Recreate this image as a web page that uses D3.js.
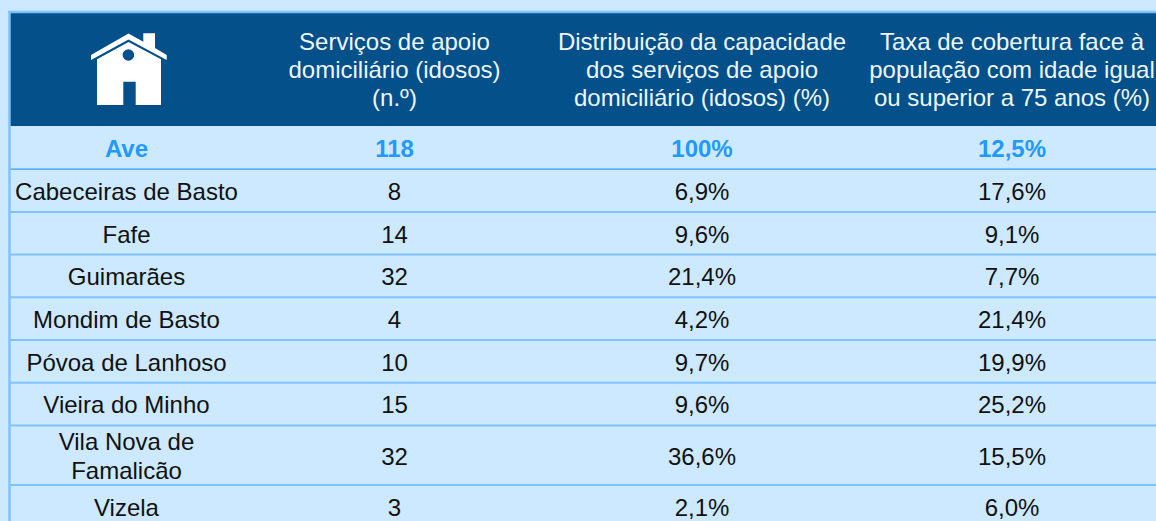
<!DOCTYPE html>
<html>
<head>
<meta charset="utf-8">
<script src="https://cdn.jsdelivr.net/npm/d3@7"></script>
<style>
  html, body { margin: 0; padding: 0; background: #cde9ff; overflow: hidden; }
  text { font-family: "Liberation Sans", Arial, sans-serif; }
</style>
</head>
<body>
<div id="chart"></div>
<script>
var svgWidth = 1156;
var svgHeight = 521;

// table values
var headers = [
  ["Serviços de apoio", "domiciliário (idosos)", "(n.º)"],
  ["Distribuição da capacidade", "dos serviços de apoio", "domiciliário (idosos) (%)"],
  ["Taxa de cobertura face à", "população com idade igual", "ou superior a 75 anos (%)"]
];
var regionTotal = ["Ave", "118", "100%", "12,5%"];
var municipalities = [
  ["Cabeceiras de Basto"],
  ["Fafe"],
  ["Guimarães"],
  ["Mondim de Basto"],
  ["Póvoa de Lanhoso"],
  ["Vieira do Minho"],
  ["Vila Nova de", "Famalicão"],
  ["Vizela"]
];
var serviceCounts = ["8", "14", "32", "4", "10", "15", "32", "3"];
var capacityShares = ["6,9%", "9,6%", "21,4%", "4,2%", "9,7%", "9,6%", "36,6%", "2,1%"];
var coverageRates = ["17,6%", "9,1%", "7,7%", "21,4%", "19,9%", "25,2%", "15,5%", "6,0%"];

var colors = {
  header: "#03508a",
  headerText: "#eef6fc",
  total: "#2299ff",
  totalLine: "#3399f5",
  grid: "#7fc2ff",
  text: "#111111"
};

var svg = d3.select("#chart")
  .append("svg")
  .attr("width", svgWidth)
  .attr("height", svgHeight)
  .style("display", "block");

// column centres
var x = d3.scaleOrdinal()
  .domain([0, 1, 2, 3])
  .range([126.5, 394.5, 702, 1012]);

// rows: the wrapped row is taller, so y runs on cumulative row units
var twoLineUnits = 1.395;
var rows = [[regionTotal[0]]].concat(municipalities);
var rowEdges = [0];
rows.forEach(function(r) {
  rowEdges.push(rowEdges[rowEdges.length - 1] + (r.length > 1 ? twoLineUnits : 1));
});
var y = d3.scaleLinear().domain([0, 1]).range([126.5, 169.2]);

// page frame and header band
svg.append("rect")
  .attr("x", 10).attr("y", 13)
  .attr("width", svgWidth - 10).attr("height", 113)
  .attr("fill", colors.header);

svg.append("line")
  .attr("x1", 8).attr("x2", svgWidth)
  .attr("y1", 12).attr("y2", 12)
  .attr("stroke", colors.grid).attr("stroke-width", 2.5);

// row separators
svg.selectAll("line.row")
  .data(rowEdges.slice(1))
  .enter()
  .append("line")
  .attr("class", "row")
  .attr("x1", 10).attr("x2", svgWidth)
  .attr("y1", d => y(d)).attr("y2", d => y(d))
  .attr("stroke", (d, i) => i === 0 ? colors.totalLine : colors.grid)
  .attr("stroke-width", (d, i) => i === 0 ? 1.2 : 2);

svg.append("line")
  .attr("x1", 9.5).attr("x2", 9.5)
  .attr("y1", 11).attr("y2", svgHeight)
  .attr("stroke", colors.grid).attr("stroke-width", 2.5);

// house icon
var icon = svg.append("g").attr("fill", "#ffffff");
icon.append("path")
  .attr("d", "M128.5,33.5L143.3,41.7V33.3H155V48L166.7,55V60L128.5,39.5L91,60V55Z");
icon.append("path")
  .attr("d", "M128.5,42L161,59.3V105H135.7V81.7H123.3V105H97V59.3Z");
icon.append("circle")
  .attr("cx", 128.4).attr("cy", 55).attr("r", 5.8)
  .attr("fill", colors.header);

// header text
var headerLineY = [42, 70, 97.5];
headers.forEach(function(lines, c) {
  svg.selectAll("text.h" + c)
    .data(lines)
    .enter()
    .append("text")
    .attr("class", "h" + c)
    .attr("x", x(c + 1))
    .attr("y", (d, i) => headerLineY[i])
    .attr("dy", "0.35em")
    .attr("text-anchor", "middle")
    .attr("font-size", 24)
    .attr("fill", colors.headerText)
    .text(d => d);
});

// body text
function drawCells(values, col, rowOffset, style) {
  var g = svg.append("g")
    .attr("font-size", 24)
    .attr("font-weight", style.weight)
    .attr("fill", style.fill)
    .attr("text-anchor", "middle");
  values.forEach(function(v, i) {
    var r = i + rowOffset;
    var mid = (y(rowEdges[r]) + y(rowEdges[r + 1])) / 2 + 1;
    var lines = Array.isArray(v) ? v : [v];
    g.selectAll("text.l" + r)
      .data(lines)
      .enter()
      .append("text")
      .attr("class", "l" + r)
      .attr("x", x(col))
      .attr("y", (d, k) => mid + (k - (lines.length - 1) / 2) * 29)
      .attr("dy", "0.35em")
      .text(d => d);
  });
}

var normal = { weight: "normal", fill: colors.text };
var bold = { weight: "bold", fill: colors.total };
regionTotal.forEach(function(v, c) {
  drawCells([v], c, 0, bold);
});
drawCells(municipalities, 0, 1, normal);
drawCells(serviceCounts, 1, 1, normal);
drawCells(capacityShares, 2, 1, normal);
drawCells(coverageRates, 3, 1, normal);
</script>
</body>
</html>
